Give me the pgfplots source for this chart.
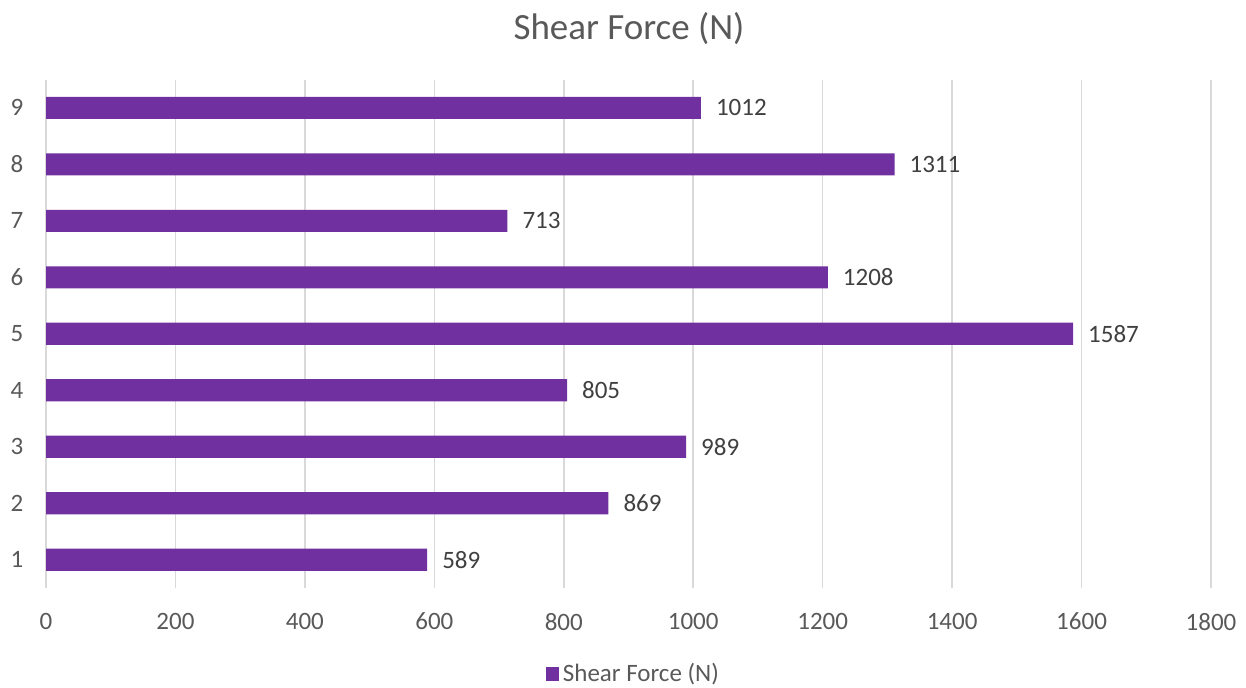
\documentclass[border=0pt]{standalone}
\usepackage{fontspec}
\setmainfont{Carlito}
\usepackage{pgfplots}
\pgfplotsset{compat=1.18}
\definecolor{barc}{HTML}{7030A0}
\definecolor{gridc}{HTML}{D9D9D9}
\definecolor{txtc}{HTML}{595959}
\definecolor{lblc}{HTML}{404040}
\begin{document}
\begin{tikzpicture}
\path[use as bounding box] (0,0) rectangle (623pt,343.5pt);
\node[text=txtc, font=\fontsize{18.5}{22}\selectfont] at (314.5pt,329pt) {Shear Force (N)};
\begin{axis}[
  at={(23pt,49.5pt)}, anchor=south west,
  scale only axis,
  width=582.5pt, height=254.25pt,
  xbar, bar width=0.39,
  xmin=0, xmax=1800,
  ymin=0.5, ymax=9.5,
  xtick={0,200,...,1800},
  ytick={1,...,9},
  xmajorgrids, grid style={gridc, line width=0.8pt},
  axis line style={draw=none},
  tick style={draw=none},
  /pgf/number format/assume math mode=true,
  /pgf/number format/1000 sep={},
  tick label style={text=txtc, font=\fontsize{12.5}{15}\selectfont},
  xticklabel style={yshift=-9pt},
  yticklabel style={xshift=-3.5pt},
  nodes near coords,
  nodes near coords style={anchor=west, xshift=4pt, text=lblc, font=\fontsize{12.5}{15}\selectfont, /pgf/number format/fixed, /pgf/number format/1000 sep={}},
  legend style={at={(0.505,-0.169)}, anchor=center, draw=none, fill=none, font=\fontsize{12.5}{15}\selectfont, text=txtc, inner sep=0pt},
  legend image code/.code={\fill[barc] (0pt,-3.3pt) rectangle (6.6pt,3.3pt);},
  legend cell align=left,
]
\addplot[fill=barc, draw=none] coordinates {
(589,1) (869,2) (989,3) (805,4) (1587,5) (1208,6) (713,7) (1311,8) (1012,9)
};
\addlegendentry{Shear Force (N)}
\end{axis}
\end{tikzpicture}
\end{document}
